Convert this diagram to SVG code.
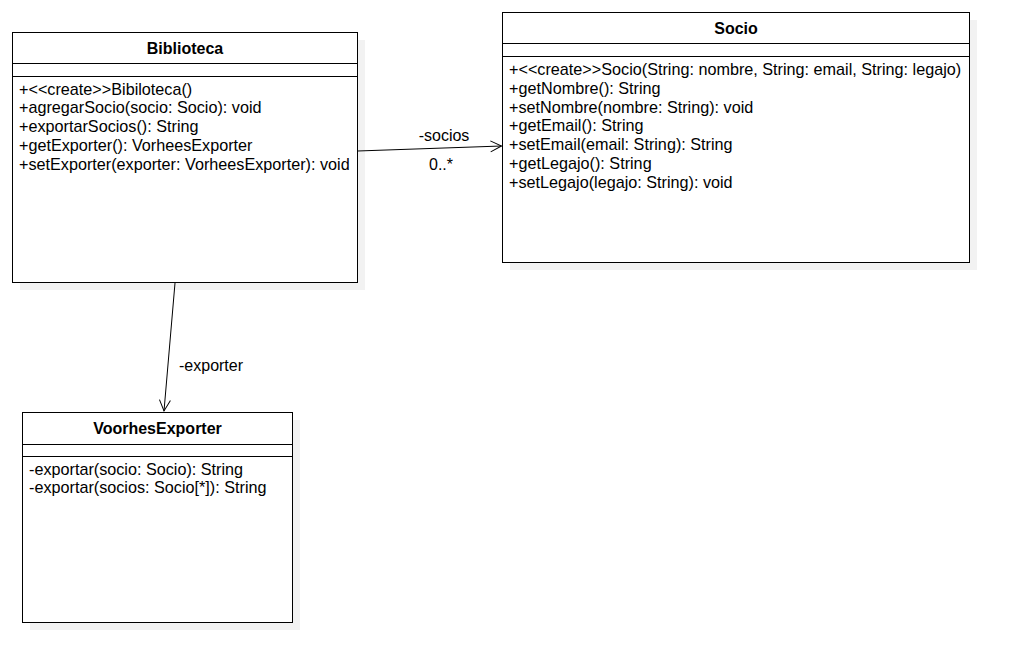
<svg xmlns="http://www.w3.org/2000/svg" width="1020" height="672" viewBox="0 0 1020 672">
<defs>
<style>
.box{fill:#ffffff;stroke:#000000;stroke-width:1}
.shadow{fill:#f2f2f2;stroke:none}
.sep{stroke:#000000;stroke-width:1}
.title{font-family:"Liberation Sans",Arial,sans-serif;font-size:16px;font-weight:bold;text-anchor:middle;fill:#000}
.m{font-family:"Liberation Sans",Arial,sans-serif;font-size:16.2px;fill:#000}
.lbl{font-family:"Liberation Sans",Arial,sans-serif;font-size:16px;fill:#000}
.edge{stroke:#000;stroke-width:1;fill:none}
</style>
<marker id="open" markerWidth="14" markerHeight="14" refX="12" refY="7" orient="auto" markerUnits="userSpaceOnUse">
<path d="M1,1.5 L12,7 L1,12.5" fill="none" stroke="#000" stroke-width="1"/>
</marker>
</defs>
<rect width="1020" height="672" fill="#ffffff"/>
<g id="Biblioteca">
<rect class="shadow" x="20" y="40" width="345" height="250"/>
<rect class="box" x="12.5" y="32.5" width="345" height="250"/>
<line class="sep" x1="12.5" y1="63.5" x2="357.5" y2="63.5"/>
<line class="sep" x1="12.5" y1="76.5" x2="357.5" y2="76.5"/>
<text class="title" x="185" y="53.5">Biblioteca</text>
<text class="m" x="19" y="94.5">+&lt;&lt;create&gt;&gt;Bibiloteca()</text>
<text class="m" x="19" y="113.3">+agregarSocio(socio: Socio): void</text>
<text class="m" x="19" y="132.1">+exportarSocios(): String</text>
<text class="m" x="19" y="150.9">+getExporter(): VorheesExporter</text>
<text class="m" x="19" y="169.7">+setExporter(exporter: VorheesExporter): void</text>
</g>
<g id="Socio">
<rect class="shadow" x="510" y="20" width="467" height="250"/>
<rect class="box" x="502.5" y="12.5" width="467" height="250"/>
<line class="sep" x1="502.5" y1="43.5" x2="969.5" y2="43.5"/>
<line class="sep" x1="502.5" y1="56.5" x2="969.5" y2="56.5"/>
<text class="title" x="736" y="34">Socio</text>
<text class="m" x="509" y="75">+&lt;&lt;create&gt;&gt;Socio(String: nombre, String: email, String: legajo)</text>
<text class="m" x="509" y="93.8">+getNombre(): String</text>
<text class="m" x="509" y="112.6">+setNombre(nombre: String): void</text>
<text class="m" x="509" y="131.4">+getEmail(): String</text>
<text class="m" x="509" y="150.2">+setEmail(email: String): String</text>
<text class="m" x="509" y="169">+getLegajo(): String</text>
<text class="m" x="509" y="187.8">+setLegajo(legajo: String): void</text>
</g>
<g id="VoorhesExporter">
<rect class="shadow" x="30" y="420" width="270" height="210"/>
<rect class="box" x="22.5" y="412.5" width="270" height="210"/>
<line class="sep" x1="22.5" y1="444.5" x2="292.5" y2="444.5"/>
<line class="sep" x1="22.5" y1="456.5" x2="292.5" y2="456.5"/>
<text class="title" x="157.5" y="434">VoorhesExporter</text>
<text class="m" x="29" y="474.5">-exportar(socio: Socio): String</text>
<text class="m" x="29" y="493.3">-exportar(socios: Socio[*]): String</text>
</g>
<g id="connectors">
<line class="edge" x1="357.5" y1="151" x2="501.5" y2="146" marker-end="url(#open)"/>
<text class="lbl" x="444" y="140.5" text-anchor="middle">-socios</text>
<text class="lbl" x="441" y="169.5" text-anchor="middle">0..*</text>
<line class="edge" x1="175" y1="283" x2="164" y2="411" marker-end="url(#open)"/>
<text class="lbl" x="179" y="370.5">-exporter</text>
</g>
</svg>
